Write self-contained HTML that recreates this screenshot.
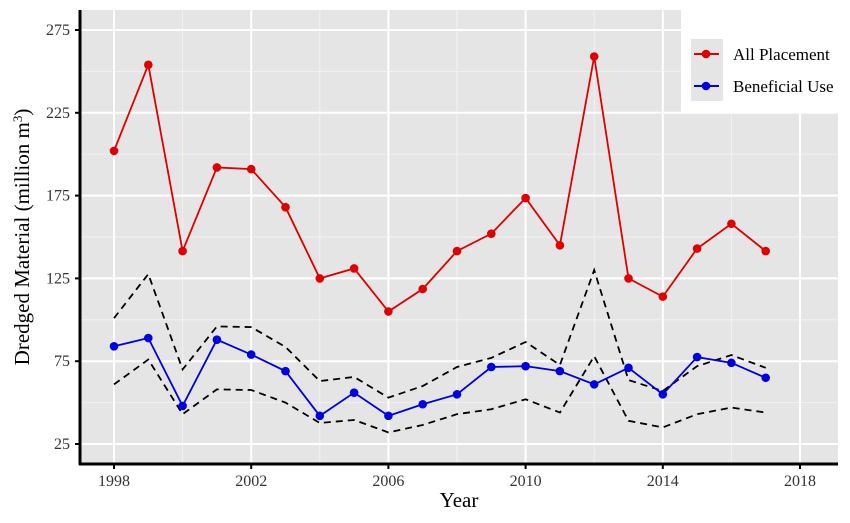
<!DOCTYPE html>
<html><head><meta charset="utf-8"><style>
body{margin:0;background:#fff}
svg{display:block;font-family:"Liberation Serif",serif}
</style></head><body>
<svg id="chart" width="850" height="523" viewBox="0 0 850 523" xmlns="http://www.w3.org/2000/svg">
<rect x="80" y="10" width="758" height="454" fill="#e5e5e5"/>
<g id="grid"></g>
<g id="series"></g>
<line x1="80" y1="10" x2="80" y2="465" stroke="#000" stroke-width="3"/>
<line x1="79" y1="464" x2="838" y2="464" stroke="#000" stroke-width="3"/>
<g id="ticks"></g>
<text x="459" y="507" font-size="21" text-anchor="middle" fill="#000">Year</text>
<text transform="translate(29,237) rotate(-90)" font-size="21" text-anchor="middle" fill="#000">Dredged Material (million m<tspan baseline-shift="super" font-size="13">3</tspan>)</text>
<g>
<rect x="681" y="10" width="169" height="102" fill="#fff"/>
<rect x="691" y="39" width="32" height="62" fill="#e5e5e5"/>
<line x1="694" y1="54" x2="719" y2="54" stroke="#e00000" stroke-width="2"/>
<circle cx="706" cy="54" r="4.3" fill="#e00000"/>
<text x="733" y="60" font-size="17">All Placement</text>
<line x1="694" y1="86" x2="719" y2="86" stroke="#0000e0" stroke-width="2"/>
<circle cx="706" cy="86" r="4.3" fill="#0000e0"/>
<text x="733" y="92" font-size="17">Beneficial Use</text>
</g>
</svg>
<script>
const years=[1998,1999,2000,2001,2002,2003,2004,2005,2006,2007,2008,2009,2010,2011,2012,2013,2014,2015,2016,2017];
const allPlacement=[202,254,141.5,192,191,168,125,131,105,118.6,141.5,152,173.5,145,259,125,114,143,158,141.5];
const beneficialUse=[84,89,48,88,79,69,42,56,42,49,55,71.5,72,69,61,71,55,77.5,74,65];
const upperBound=[101,127.6,70,96,95.6,83.6,63,65.5,53,60,71.5,77,86.6,72.7,130,63.6,57,72,78.7,71];
const lowerBound=[61,76,43,58,57.6,50,37.7,39.5,32,36.5,43,46,52,44,78,39,35,43,47,44];
const yTicks=[25,75,125,175,225,275];
const xTicks=[1998,2002,2006,2010,2014,2018];
const NS="http://www.w3.org/2000/svg";
function xs(y){return 114+(y-1998)*34.3;}
function ys(v){return 444-(v-25)*1.656;}
const grid=document.getElementById('grid'),ser=document.getElementById('series'),tk=document.getElementById('ticks');
function mk(tag,attrs,parent){const e=document.createElementNS(NS,tag);for(const k in attrs)e.setAttribute(k,attrs[k]);parent.appendChild(e);return e;}
for(let v=50;v<=275;v+=50){const g=mk('line',{x1:80,x2:838,y1:ys(v),y2:ys(v),stroke:'#f2f2f2','stroke-width':1},grid);

}
for(let yr=2000;yr<=2018;yr+=4){const g=mk('line',{x1:xs(yr),x2:xs(yr),y1:10,y2:464,stroke:'#f2f2f2','stroke-width':1},grid);

}
yTicks.forEach(v=>{const g=mk('line',{x1:80,x2:838,y1:ys(v),y2:ys(v),stroke:'#fff','stroke-width':2},grid);


const t=mk('line',{x1:75,x2:80,y1:ys(v),y2:ys(v),stroke:'#000','stroke-width':2},tk);


const l=mk('text',{x:70,y:ys(v)+5,'font-size':16,'text-anchor':'end',fill:'#333'},tk);l.textContent=v;

});
xTicks.forEach(yr=>{const g=mk('line',{x1:xs(yr),x2:xs(yr),y1:10,y2:464,stroke:'#fff','stroke-width':2},grid);


const t=mk('line',{x1:xs(yr),x2:xs(yr),y1:464,y2:469,stroke:'#000','stroke-width':2},tk);


const l=mk('text',{x:xs(yr),y:486,'font-size':16,'text-anchor':'middle',fill:'#333'},tk);l.textContent=yr;

});
function pts(arr){return arr.map((v,i)=>xs(years[i])+','+ys(v)).join(' ');}
const up=mk('polyline',{points:pts(upperBound),fill:'none',stroke:'#000','stroke-width':1.8,'stroke-dasharray':'7,5'},ser);


const lo=mk('polyline',{points:pts(lowerBound),fill:'none',stroke:'#000','stroke-width':1.8,'stroke-dasharray':'7,5'},ser);


[[allPlacement,'#e00000','all-placement'],[beneficialUse,'#0000e0','beneficial-use']].forEach(([arr,c,n])=>{
const p=mk('polyline',{points:pts(arr),fill:'none',stroke:c,'stroke-width':1.8},ser);


arr.forEach((v,i)=>{const d=mk('circle',{cx:xs(years[i]),cy:ys(v),r:4.3,fill:c},ser);

});});
</script>
</body></html>
